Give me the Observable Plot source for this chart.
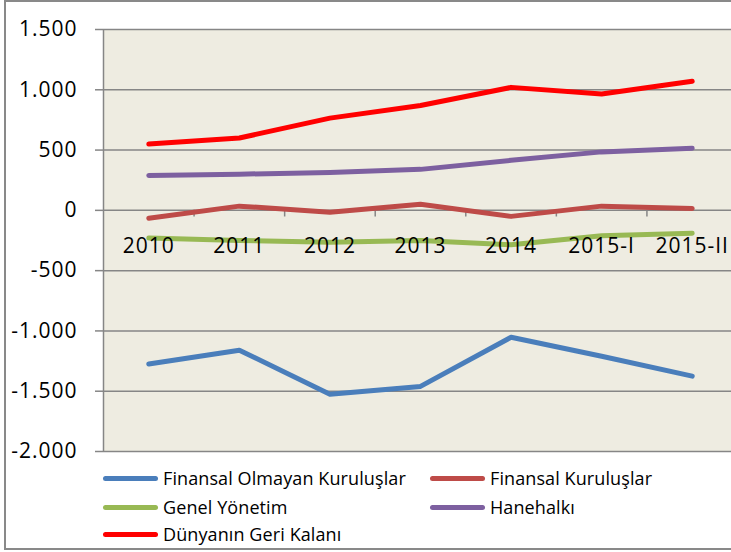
<!DOCTYPE html>
<html>
<head>
<meta charset="utf-8">
<script src="https://cdn.jsdelivr.net/npm/d3@7"></script>
<script src="https://cdn.jsdelivr.net/npm/@observablehq/plot@0.6"></script>
<style>
  html, body { margin: 0; padding: 0; overflow: hidden; background: #fff; width: 731px; height: 552px; }
  #frame { position: absolute; left: 4px; top: 0px; width: 800px; height: 550px; border: 2px solid #898989; box-sizing: border-box; }
  #chart { position: absolute; left: 0; top: 0; width: 740px; height: 460px; }
  #chart svg { max-width: none !important; width: 740px !important; height: 460px !important; }
  .lg { position: absolute; font-family: "Open Sans", sans-serif; font-size: 18px; letter-spacing: 0.1px; color: #000; white-space: nowrap; display: flex; align-items: center; }
  .sw { display: inline-block; width: 55px; height: 5px; border-radius: 3px; margin-right: 5px; }
</style>
</head>
<body>
<div id="frame"></div>
<div id="chart"></div>
<div id="legend"></div>
<script>
const categories = ["2010", "2011", "2012", "2013", "2014", "2015-I", "2015-II"];
const seriesNames = ["Finansal Olmayan Kuruluşlar", "Finansal Kuruluşlar", "Genel Yönetim", "Hanehalkı", "Dünyanın Geri Kalanı"];
const finansalOlmayan = [-1275, -1160, -1525, -1460, -1053, -1210, -1375];
const finansal = [-65, 35, -15, 50, -50, 35, 15];
const genelYonetim = [-230, -250, -265, -250, -285, -210, -190];
const hanehalki = [290, 300, 315, 340, 415, 485, 515];
const dunya = [550, 600, 765, 870, 1020, 965, 1070];
const seriesColors = ["#4A7EBB", "#BE4B48", "#98B954", "#7D60A0", "#FF0000"];
const yTicks = [-2000, -1500, -1000, -500, 0, 500, 1000, 1500];

const seriesValues = [finansalOlmayan, finansal, genelYonetim, hanehalki, dunya];
const rows = [];
seriesNames.forEach((name, s) => {
  seriesValues[s].forEach((v, i) => rows.push({series: name, xi: i + 0.5, value: v}));
});
const catRows = categories.map((c, i) => ({label: c, xi: i + 0.5}));
const boundaries = d3.range(1, categories.length + 1);

const trLocale = d3.formatLocale({decimal: ",", thousands: ".", grouping: [3], currency: ["", ""], minus: "-"});
const fmt = trLocale.format(",");

const grid = "#868686";

const chart = Plot.plot({
  width: 740,
  height: 460,
  marginLeft: 103,
  marginRight: 3,
  marginTop: 29,
  marginBottom: 9,
  style: {fontFamily: "Open Sans, sans-serif", fontSize: "21px", background: "transparent", color: "#000", overflow: "visible", letterSpacing: "1px"},
  x: {type: "linear", domain: [0, categories.length], axis: null},
  y: {domain: [-2000, 1500], axis: null},
  color: {domain: seriesNames, range: seriesColors},
  marks: [
    Plot.frame({fill: "#EEECE1", stroke: null}),
    Plot.gridY(yTicks, {stroke: grid, strokeOpacity: 1, strokeWidth: 1.5}),
    Plot.ruleX([0], {y1: -2000, y2: 1500, stroke: grid, strokeWidth: 1.5}),
    Plot.axisY(yTicks, {tickFormat: fmt, tickSize: 8, tickPadding: 18, stroke: grid, strokeWidth: 1.5, fontSize: 21, fill: "#000", label: null}),
    Plot.ruleX(boundaries, {y1: 0, y2: -55, stroke: grid, strokeWidth: 1.5}),
    Plot.line(rows, {x: "xi", y: "value", z: "series", stroke: "series", strokeWidth: 5, strokeLinecap: "round", strokeLinejoin: "round"}),
    Plot.text(catRows, {x: "xi", y: () => 0, text: "label", dy: 36, fontSize: 21, fill: "#000"})
  ]
});
document.getElementById("chart").appendChild(chart);

// legend
const legendPos = [
  {left: 103, top: 478},
  {left: 430, top: 478},
  {left: 103, top: 507},
  {left: 430, top: 507},
  {left: 103, top: 534}
];
const legend = document.getElementById("legend");
seriesNames.forEach((name, i) => {
  const d = document.createElement("div");
  d.className = "lg";
  d.style.left = legendPos[i].left + "px";
  d.style.top = (legendPos[i].top - 12) + "px";
  d.style.height = "24px";
  const sw = document.createElement("span");
  sw.className = "sw";
  sw.style.background = seriesColors[i];
  d.appendChild(sw);
  d.appendChild(document.createTextNode(name));
  legend.appendChild(d);
});
</script>
</body>
</html>
